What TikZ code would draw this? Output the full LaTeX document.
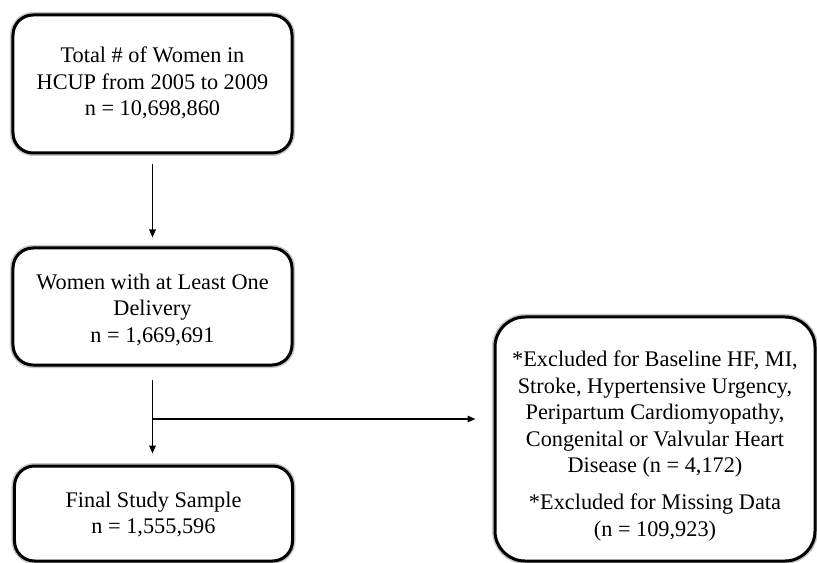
\documentclass[tikz,border=0pt]{standalone}
\usepackage{fontspec}
\setmainfont{Liberation Serif}
\usetikzlibrary{arrows.meta}
\newcommand\shiftedlines[2]{\raisebox{#1}[\height][\depth]{\begin{tabular}{@{}c@{}}#2\end{tabular}}}
\begin{document}
\begin{tikzpicture}[x=1bp,y=-1bp,
  box/.style={draw=black, line width=3bp, rounded corners=20bp, fill=white,
    inner sep=0pt,
    font=\fontsize{22.3bp}{26.5bp}\selectfont,
    preaction={draw=black!22, line width=6bp}},
  conn/.style={line width=1.5bp, -{Triangle[length=8bp,width=6.5bp]}}]
\useasboundingbox (0,0) rectangle (817,563);
\node[box, minimum width=279bp, minimum height=138bp] (total) at (152.5,84)
  {\shiftedlines{0bp}{Total \# of Women in\\HCUP from 2005 to 2009\\n = 10,698,860}};
\node[box, minimum width=279bp, minimum height=117bp] (deliv) at (152.5,306.5)
  {\shiftedlines{-4bp}{Women with at Least One\\Delivery\\n = 1,669,691}};
\node[box, minimum width=278bp, minimum height=95bp] (final) at (153.5,513.5)
  {\shiftedlines{-1.5bp}{Final Study Sample\\n = 1,555,596}};
\node[box, rounded corners=30bp, minimum width=320bp, minimum height=244bp] (excl) at (655,439)
  {\shiftedlines{-7bp}{*Excluded for Baseline HF, MI,\\Stroke, Hypertensive Urgency,\\Peripartum Cardiomyopathy,\\Congenital or Valvular Heart\\Disease (n = 4,172)\\[10.5bp]*Excluded for Missing Data\\(n = 109,923)}};
\draw[conn, shorten <=9bp, shorten >=9bp] (total.south) -- (deliv.north);
\draw[conn, shorten <=13bp, shorten >=11bp] (deliv.south) -- (deliv.south |- final.north);
\coordinate (br) at (152.5,419);
\draw[conn, shorten >=18bp] (br) -- (excl.west |- br);
\end{tikzpicture}
\end{document}
